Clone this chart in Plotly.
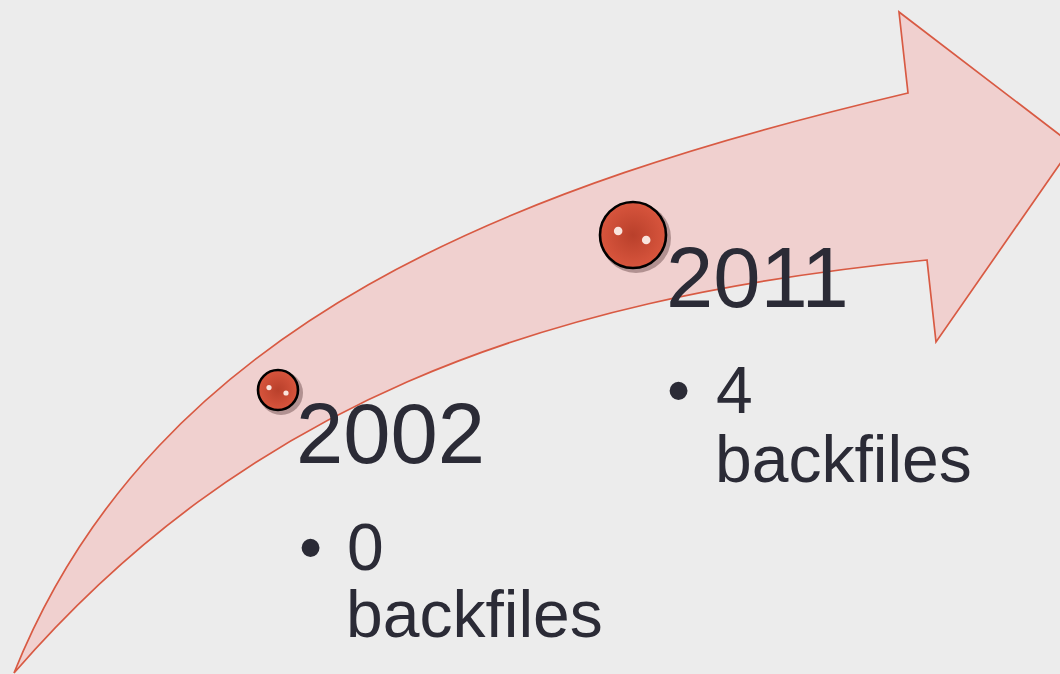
import plotly.graph_objects as go

# ---- data ----
years = ["2002", "2011"]
backfiles = [0, 4]
unit_label = "backfiles"

# ---- layout of the milestone graphic (pixel space, y downward) ----
W, H = 1060, 674
dot_x = [278, 633]
dot_y = [390, 235]
dot_size = [40, 66]
year_x = [294, 664]
year_y = [433, 277]
bullet_x = [310, 678]
count_x = [345, 714]
count_y = [547, 390]
unit_x = [344, 713]
unit_y = [614, 459]

TEXT = "#2b2b36"
ARROW_FILL = "#f0d0cf"
ARROW_LINE = "#d85a43"
FONT = "Liberation Sans, Arial, sans-serif"

fig = go.Figure()

arrow_path = ("M 14,673 C 156,319 519,185 908,93 L 899,12 L 1073,145 "
              "L 936,342 L 927,260 C 529,299 244,408 14,673 Z")
fig.add_shape(type="path", path=arrow_path, xref="x", yref="y",
              fillcolor=ARROW_FILL, line=dict(color=ARROW_LINE, width=1.7),
              layer="below")

# shadows
fig.add_trace(go.Scatter(
    x=[x + 3 for x in dot_x], y=[y + 3 for y in dot_y], mode="markers",
    marker=dict(size=[s + 4 for s in dot_size], color="rgba(60,30,30,0.35)",
                line=dict(width=0), opacity=1),
    hoverinfo="skip", showlegend=False))
# spheres
fig.add_trace(go.Scatter(
    x=dot_x, y=dot_y, mode="markers",
    marker=dict(size=dot_size, color="#d8553d", opacity=1,
                gradient=dict(type="radial", color="#b9402b"),
                line=dict(color="#000000", width=2.6)),
    hoverinfo="skip", showlegend=False))
# highlights
hl_x, hl_y, hl_s = [], [], []
for x, y, s in zip(dot_x, dot_y, dot_size):
    r = s / 2
    hl_x += [x - 0.45 * r, x + 0.4 * r]
    hl_y += [y - 0.12 * r, y + 0.15 * r]
    hl_s += [max(5, s * 0.13), max(5, s * 0.13)]
fig.add_trace(go.Scatter(
    x=hl_x, y=hl_y, mode="markers",
    marker=dict(size=hl_s, color="rgba(255,245,240,0.9)", line=dict(width=0),
                opacity=1),
    hoverinfo="skip", showlegend=False))

for i, yr in enumerate(years):
    fig.add_annotation(x=year_x[i], y=year_y[i], text=yr, showarrow=False,
                       xanchor="left", yanchor="middle",
                       font=dict(family=FONT, size=85, color=TEXT))
    fig.add_annotation(x=bullet_x[i], y=count_y[i], text="•", showarrow=False,
                       xanchor="center", yanchor="middle",
                       font=dict(family=FONT, size=66, color=TEXT))
    fig.add_annotation(x=count_x[i], y=count_y[i], text=str(backfiles[i]),
                       showarrow=False, xanchor="left", yanchor="middle",
                       font=dict(family=FONT, size=66, color=TEXT))
    fig.add_annotation(x=unit_x[i], y=unit_y[i], text=unit_label,
                       showarrow=False, xanchor="left", yanchor="middle",
                       font=dict(family=FONT, size=66, color=TEXT))

fig.update_xaxes(range=[0, W], visible=False, fixedrange=True)
fig.update_yaxes(range=[H, 0], visible=False, fixedrange=True)
fig.update_layout(width=W, height=H, margin=dict(l=0, r=0, t=0, b=0),
                  paper_bgcolor="#ececec", plot_bgcolor="#ececec",
                  showlegend=False)

fig.write_html(
    "out.html",
    config={"displayModeBar": False},
    post_script="document.body.style.margin='0';"
                "document.body.style.background='#ececec';",
)
